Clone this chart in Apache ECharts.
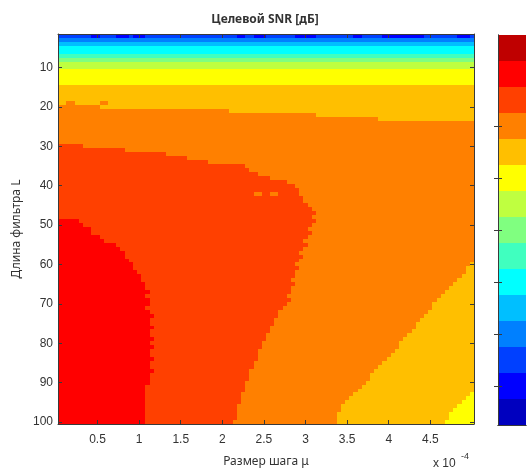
<!DOCTYPE html>
<html>
<head>
<meta charset="utf-8">
<script src="https://cdn.jsdelivr.net/npm/echarts@6/dist/echarts.min.js"></script>
<style>
html, body { margin: 0; padding: 0; background: #fff; }
#chart { width: 530px; height: 468px; }
</style>
</head>
<body>
<div id="chart"></div>
<script>
// шаг mu в единицах 1e-4, 100 столбцов по 0.05
var muStep = 0.05;
var nCols = 100;
var xTicks = [0.5, 1, 1.5, 2, 2.5, 3, 3.5, 4, 4.5];
var yTicks = [10, 20, 30, 40, 50, 60, 70, 80, 90, 100];
var cbTicks = [1.5, 3.5, 5.5, 7.5, 9.5, 11.5];
var cbLevels = [1, 2, 3, 4, 5, 6, 7, 8, 9, 10, 11, 12, 13, 14, 15];

// jet(15)
var jet15 = ['#0000bf', '#0000ff', '#0040ff', '#0080ff', '#00bfff', '#00ffff', '#40ffbf', '#80ff80',
    '#bfff40', '#ffff00', '#ffbf00', '#ff8000', '#ff4000', '#ff0000', '#bf0000'];

// уровни по строкам, L = 2..14
var topLevels = [3, 4, 5, 6, 6, 7, 8, 9, 9, 10, 10, 10, 10];
// конец оранжевой полосы сверху, L = 20..23
var orangeTopEnd = [10, 41, 62, 77];
// конец оранжево-красной области, L = 30..100
var orangeRedEnd = [
    6, 16, 26, 31, 36, 45, 46, 48, 51, 55,
    57, 58, 58, 59, 59, 60, 61, 62, 61, 62,
    61, 60, 61, 60, 59, 60, 59, 58, 59, 58,
    57, 58, 57, 57, 56, 57, 56, 56, 55, 56,
    55, 54, 53, 53, 52, 52, 51, 51, 50, 50,
    49, 49, 48, 48, 48, 47, 47, 46, 46, 46,
    45, 45, 45, 44, 44, 44, 43, 43, 43, 43,
    42];
// конец красной области, L = 49..100
var redEnd = [
    5, 6, 8, 8, 10, 11, 14, 15, 16, 16,
    17, 18, 18, 19, 20, 20, 21, 21, 22, 21,
    22, 22, 21, 22, 23, 22, 22, 23, 22, 22,
    23, 22, 23, 22, 22, 23, 22, 22, 23, 22,
    22, 22, 21, 21, 21, 21, 21, 21, 21, 21,
    21, 21];
// конец оранжевой области справа внизу, L = 60..100
var orangeEnd = [
    99, 98, 98, 97, 96, 95, 94, 93, 92, 91,
    90, 90, 89, 88, 87, 86, 86, 85, 84, 83,
    82, 82, 81, 80, 79, 78, 77, 76, 75, 75,
    74, 73, 72, 71, 70, 69, 68, 68, 67, 67,
    67];
// конец жёлто-оранжевой области, L = 93..100
var yellowOrangeEnd = [99, 98, 97, 96, 95, 94, 94, 93];
// отдельные пятна [L, c0, c1, уровень]
var patches = [
    [2, 9, 10, 2], [2, 15, 17, 2], [2, 19, 21, 2], [2, 44, 45, 2], [2, 48, 50, 2],
    [2, 58, 62, 2], [2, 72, 73, 2], [2, 79, 88, 2], [2, 97, 99, 2],
    [19, 3, 4, 12], [19, 11, 12, 12],
    [42, 48, 49, 12], [42, 52, 53, 12]
];

var grid = {};
for (var L = 2; L <= 100; L++) {
    var row = [];
    for (var c = 1; c <= nCols; c++) {
        var lev;
        if (L <= 14) lev = topLevels[L - 2];
        else if (L < 20) lev = 11;
        else {
            lev = 12;
            if (L <= 23 && c > orangeTopEnd[L - 20]) lev = 11;
            if (L >= 60 && c > orangeEnd[L - 60]) lev = 11;
            if (L >= 93 && c > yellowOrangeEnd[L - 93]) lev = 10;
            if (L >= 30 && c <= orangeRedEnd[L - 30]) lev = 13;
            if (L >= 49 && c <= redEnd[L - 49]) lev = 14;
        }
        row.push(lev);
    }
    grid[L] = row;
}
patches.forEach(function (p) {
    for (var c = p[1]; c <= p[2]; c++) grid[p[0]][c - 1] = p[3];
});

// склеиваем одинаковые клетки строки в отрезки
var cells = [];
for (var L = 2; L <= 100; L++) {
    var row = grid[L];
    var start = 1;
    for (var c = 2; c <= nCols + 1; c++) {
        if (c > nCols || row[c - 1] !== row[start - 1]) {
            cells.push([(start - 0.5) * muStep, (c - 0.5) * muStep, L, row[start - 1]]);
            start = c;
        }
    }
}

function drawRun(params, api) {
    var a = api.coord([api.value(0), api.value(2) - 0.5]);
    var b = api.coord([api.value(1), api.value(2) + 0.5]);
    var x0 = Math.round(a[0]), x1 = Math.round(b[0]);
    var y0 = Math.round(Math.min(a[1], b[1])), y1 = Math.round(Math.max(a[1], b[1]));
    return {
        type: 'rect',
        shape: { x: x0, y: y0, width: x1 - x0, height: y1 - y0 },
        style: { fill: jet15[api.value(3) - 1] }
    };
}

function drawBar(params, api) {
    var a = api.coord([0, api.value(0) - 1]);
    var b = api.coord([1, api.value(0)]);
    var y0 = Math.round(Math.min(a[1], b[1])), y1 = Math.round(Math.max(a[1], b[1]));
    return {
        type: 'rect',
        shape: { x: Math.round(a[0]), y: y0, width: Math.round(b[0]) - Math.round(a[0]), height: y1 - y0 },
        style: { fill: jet15[api.value(0) - 1] }
    };
}

var lineStyle = { color: '#3a3a3a', width: 1 };
var tickFont = { fontFamily: 'Liberation Sans', fontSize: 12, color: '#333' };

var chart = echarts.init(document.getElementById('chart'));
var option = {
    animation: false,
    title: {
        text: 'Целевой SNR [дБ]',
        left: 'center',
        top: 9,
        textStyle: { fontFamily: 'Noto Sans', fontSize: 12, fontWeight: 'bold', color: '#333' }
    },
    grid: [
        { left: 58, top: 34, width: 416, height: 390, outerBoundsMode: 'none', containLabel: false },
        { left: 498, top: 35, width: 28, height: 390, outerBoundsMode: 'none', containLabel: false }
    ],
    xAxis: [
        {
            type: 'value', gridIndex: 0, position: 'bottom', min: 0.025, max: 5.025, z: 5,
            axisLine: { lineStyle: lineStyle },
            axisTick: { inside: true, length: 4, customValues: xTicks, lineStyle: lineStyle },
            axisLabel: Object.assign({ customValues: xTicks, margin: 10 }, tickFont),
            splitLine: { show: false },
            name: 'Размер шага μ', nameLocation: 'middle', nameGap: 32,
            nameTextStyle: { fontFamily: 'Noto Sans', fontSize: 12, color: '#333' }
        },
        {
            type: 'value', gridIndex: 0, position: 'top', min: 0.025, max: 5.025, z: 5,
            axisLine: { lineStyle: lineStyle },
            axisTick: { inside: true, length: 4, customValues: xTicks, lineStyle: lineStyle },
            axisLabel: { show: false },
            splitLine: { show: false }
        },
        {
            type: 'value', gridIndex: 1, position: 'bottom', min: 0, max: 1, z: 5,
            axisLine: { lineStyle: lineStyle }, axisTick: { show: false }, axisLabel: { show: false },
            splitLine: { show: false }
        },
        {
            type: 'value', gridIndex: 1, position: 'top', min: 0, max: 1, z: 5,
            axisLine: { lineStyle: lineStyle }, axisTick: { show: false }, axisLabel: { show: false },
            splitLine: { show: false }
        }
    ],
    yAxis: [
        {
            type: 'value', gridIndex: 0, position: 'left', inverse: true, min: 1.5, max: 100.5, z: 5,
            axisLine: { show: true, lineStyle: lineStyle },
            axisTick: { show: true, inside: true, length: 4, customValues: yTicks, lineStyle: lineStyle },
            axisLabel: Object.assign({ customValues: yTicks, margin: 5 }, tickFont),
            splitLine: { show: false },
            name: 'Длина фильтра L', nameLocation: 'middle', nameGap: 22,
            nameTextStyle: { fontFamily: 'Noto Sans', fontSize: 12, color: '#333' }
        },
        {
            type: 'value', gridIndex: 0, position: 'right', inverse: true, min: 1.5, max: 100.5, z: 5,
            axisLine: { show: true, lineStyle: lineStyle },
            axisTick: { show: true, inside: true, length: 4, customValues: yTicks, lineStyle: lineStyle },
            axisLabel: { show: false },
            splitLine: { show: false }
        },
        {
            type: 'value', gridIndex: 1, position: 'left', min: 0, max: 15, z: 5,
            axisLine: { show: true, lineStyle: lineStyle },
            axisTick: { show: true, inside: true, length: 4, customValues: cbTicks, lineStyle: lineStyle },
            axisLabel: { show: false },
            splitLine: { show: false }
        },
        {
            type: 'value', gridIndex: 1, position: 'right', min: 0, max: 15, z: 5,
            axisLine: { show: true, lineStyle: lineStyle },
            axisTick: { show: true, inside: true, length: 4, customValues: cbTicks, lineStyle: lineStyle },
            axisLabel: { show: false },
            splitLine: { show: false }
        }
    ],
    graphic: [
        {
            type: 'text', left: 433, top: 458,
            style: { text: 'x 10', fontFamily: 'Liberation Sans', fontSize: 12, fill: '#333' }
        },
        {
            type: 'text', left: 461, top: 452,
            style: { text: '-4', fontFamily: 'Liberation Sans', fontSize: 9, fill: '#333' }
        }
    ],
    series: [
        {
            type: 'custom', xAxisIndex: 0, yAxisIndex: 0,
            renderItem: drawRun, data: cells, silent: true
        },
        {
            type: 'custom', xAxisIndex: 2, yAxisIndex: 2,
            renderItem: drawBar, data: cbLevels.map(function (v) { return [v]; }), silent: true
        }
    ]
};
chart.setOption(option);
</script>
</body>
</html>
